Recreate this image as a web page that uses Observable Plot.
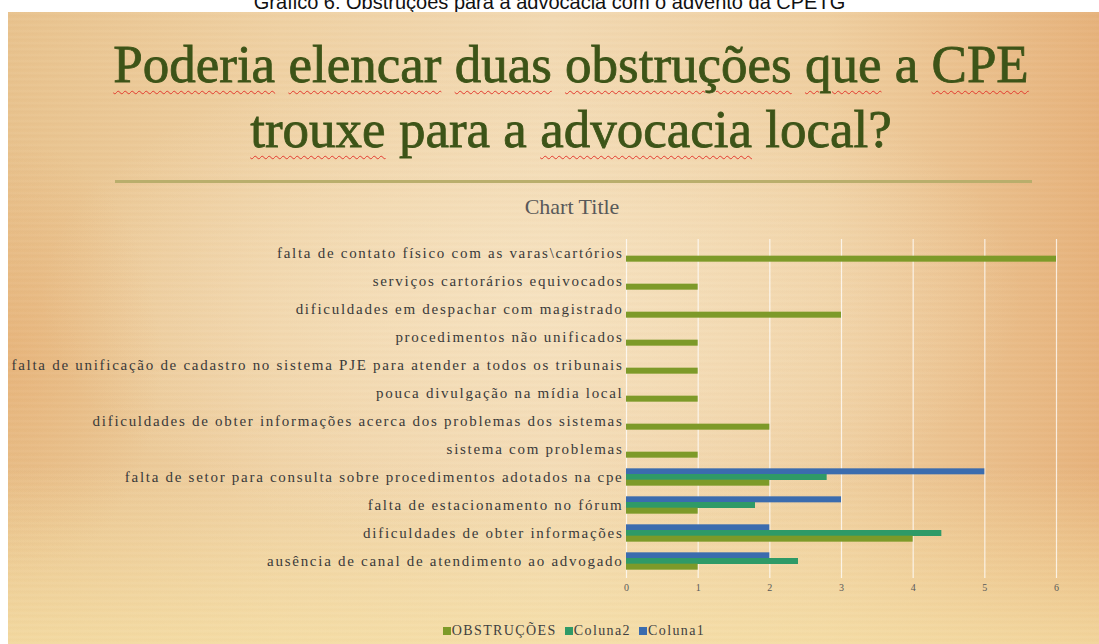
<!DOCTYPE html>
<html>
<head>
<meta charset="utf-8">
<script src="https://cdn.jsdelivr.net/npm/d3@7"></script>
<script src="https://cdn.jsdelivr.net/npm/@observablehq/plot@0.6"></script>
<style>
  html, body { margin: 0; padding: 0; background: #fff; }
  #page { position: relative; width: 1099px; height: 644px; overflow: hidden; background: #fff; }
  #caption { position: absolute; left: 0; top: -8px; width: 1099px; text-align: center;
    font-family: "Liberation Sans", Arial, sans-serif; font-size: 20px; line-height: 20px; color: #111; }
  #slide { position: absolute; left: 8px; top: 12px; width: 1091px; height: 632px; overflow: hidden;
    background:
      repeating-linear-gradient(180deg, rgba(255,255,255,0.03) 0px, rgba(255,255,255,0.03) 2px, rgba(160,110,60,0.025) 3px, rgba(160,110,60,0.0) 6px),
      linear-gradient(180deg, rgba(255,255,255,0) 0%, rgba(255,255,255,0) 72%, rgba(246,224,166,0.75) 100%),
      radial-gradient(ellipse 45% 40% at 48% 45%, rgba(247,228,195,0.8) 0%, rgba(247,228,195,0) 100%),
      radial-gradient(ellipse 14% 35% at 0% 55%, rgba(230,170,110,0.55) 0%, rgba(230,170,110,0) 100%),
      linear-gradient(90deg, #e8c28d 0%, #efd1a3 25%, #f2d9b2 50%, #efcfa0 75%, #e6b27b 100%);
  }
  #title { position: absolute; left: 0; top: 20px; width: 1126px; text-align: center;
    font-family: "Liberation Serif", "Times New Roman", serif; font-size: 53px; line-height: 65px; color: #3d5418;
    -webkit-text-stroke: 0.8px #3d5418; }
  #title .sp { text-decoration: underline wavy #e23a2e; text-decoration-thickness: 1px; text-underline-offset: 8px; }
  #rule { position: absolute; left: 107px; top: 168px; width: 917px; height: 3px; background: #b9ae6c; }
  #ctitle { position: absolute; left: 0; top: 182px; width: 1128px; text-align: center;
    font-family: "Liberation Serif", serif; font-size: 22px; color: #595959; }
  #chart { position: absolute; left: -8px; top: 218px; width: 1099px; }
  #chart svg { max-width: none !important; }
  #chart svg g[aria-label="y-axis tick label"] text { letter-spacing: 1.72px; }
  #legend { position: absolute; left: 0; top: 611px; width: 1132px; text-align: center;
    font-family: "Liberation Serif", serif; font-size: 14px; color: #404040; letter-spacing: 1.4px; }
  #legend span.item { margin: 0 4px; }
  #legend span.sw { display: inline-block; width: 8px; height: 8px; margin-right: 1px; vertical-align: 0px; }
</style>
</head>
<body>
<div id="page">
  <div id="caption">Gráfico 6: Obstruções para a advocacia com o advento da CPETG</div>
  <div id="slide">
    <div id="title"><span class="sp">Poderia</span> <span class="sp">elencar</span> <span class="sp">duas</span> <span class="sp">obstruções</span> <span class="sp">que</span> a <span class="sp">CPE</span><br><span class="sp">trouxe</span> para a <span class="sp">advocacia</span> local?</div>
    <div id="rule"></div>
    <div id="ctitle">Chart Title</div>
    <div id="chart"></div>
    <div id="legend"></div>
  </div>
</div>
<script>
const categories = [
  "falta de contato físico com as varas\\cartórios",
  "serviços cartorários equivocados",
  "dificuldades em despachar com magistrado",
  "procedimentos não unificados",
  "falta de unificação de cadastro no sistema PJE para atender a todos os tribunais",
  "pouca divulgação na mídia local",
  "dificuldades de obter informações acerca dos problemas dos sistemas",
  "sistema com problemas",
  "falta de setor para consulta sobre procedimentos adotados na cpe",
  "falta de estacionamento no fórum",
  "dificuldades de obter informações",
  "ausência de canal de atendimento ao advogado"
];
const obstrucoes = [6, 1, 3, 1, 1, 1, 2, 1, 2, 1, 4, 1];
const coluna2 = [null, null, null, null, null, null, null, null, 2.8, 1.8, 4.4, 2.4];
const coluna1 = [null, null, null, null, null, null, null, null, 5, 3, 2, 2];
const seriesNames = ["OBSTRUÇÕES", "Coluna2", "Coluna1"];
const seriesColors = ["#7d9a29", "#2f9a67", "#3b6cae"];
const xTicks = [0, 1, 2, 3, 4, 5, 6];

const rowsObs = categories.map((c, i) => ({cat: c, v: obstrucoes[i]}));
const rowsC2 = categories.map((c, i) => ({cat: c, v: coluna2[i]})).filter(d => d.v != null);
const rowsC1 = categories.map((c, i) => ({cat: c, v: coluna1[i]})).filter(d => d.v != null);

const barH = 5.67;
const chart = Plot.plot({
  width: 1099,
  height: 390,
  marginLeft: 626,
  marginRight: 43,
  marginTop: 9,
  marginBottom: 45,
  style: {background: "transparent", fontFamily: "'Liberation Serif', serif", overflow: "visible", maxWidth: "none"},
  x: {domain: [0, 6], ticks: xTicks, tickFormat: d => String(d)},
  y: {domain: categories, paddingInner: 0.797, paddingOuter: 0.3985},
  marks: [
    Plot.gridX(xTicks, {stroke: "#ffffff", strokeOpacity: 0.75, strokeWidth: 1.2, insetBottom: -3}),
    Plot.barX(rowsC1, {x: "v", y: "cat", fill: seriesColors[2], dy: -barH}),
    Plot.barX(rowsC2, {x: "v", y: "cat", fill: seriesColors[1]}),
    Plot.barX(rowsObs, {x: "v", y: "cat", fill: seriesColors[0], dy: barH}),
    Plot.axisY({tickSize: 0, tickPadding: 3, fontSize: 15, fill: "#3a3a3a", label: null}),
    Plot.axisX({ticks: xTicks, tickFormat: d => String(d), tickSize: 0, tickPadding: 8, fontSize: 10, fill: "#595959", label: null})
  ]
});
document.getElementById("chart").appendChild(chart);

const legend = document.getElementById("legend");
seriesNames.forEach((name, i) => {
  const item = document.createElement("span");
  item.className = "item";
  const sw = document.createElement("span");
  sw.className = "sw";
  sw.style.background = seriesColors[i];
  item.appendChild(sw);
  item.appendChild(document.createTextNode(name));
  legend.appendChild(item);
});
</script>
</body>
</html>
